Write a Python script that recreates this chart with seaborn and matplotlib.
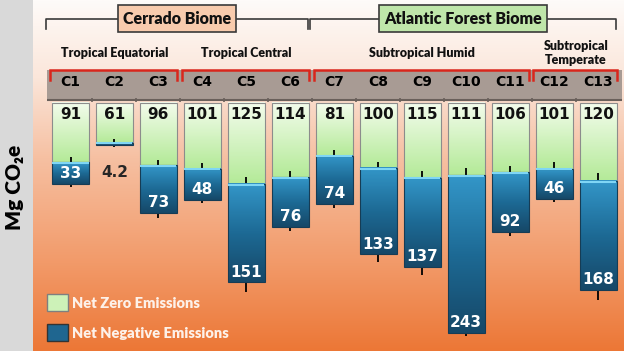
import numpy as np
import matplotlib
matplotlib.use("Agg")
import matplotlib.pyplot as plt
from matplotlib.colors import LinearSegmentedColormap
from matplotlib.patches import Rectangle, Patch
import seaborn as sns

# values (Mg CO2e)
codes = ["C1", "C2", "C3", "C4", "C5", "C6", "C7", "C8", "C9", "C10", "C11", "C12", "C13"]
net_zero = [91, 61, 96, 101, 125, 114, 81, 100, 115, 111, 106, 101, 120]
net_negative = [33, 4.2, 73, 48, 151, 76, 74, 133, 137, 243, 92, 46, 168]
zero_err = [8, 6, 9, 9, 11, 9, 8, 9, 11, 11, 9, 11, 12]
negative_err = [5, 3, 8, 5, 14, 7, 7, 12, 12, 5, 7, 6, 15]

climates = ["Tropical Equatorial", "Tropical Central", "Subtropical Humid", "Subtropical\nTemperate"]
climate_first = [0, 3, 6, 11]
climate_last = [2, 5, 10, 12]

biomes = ["Cerrado Biome", "Atlantic Forest Biome"]
biome_first = [0, 6]
biome_last = [5, 12]
biome_colors = ["#f8cbad", "#bfe6aa"]

TEXT_FONT = ["Lato", "DejaVu Sans"]
plt.rcParams["font.family"] = ["DejaVu Sans"]

fig = plt.figure(figsize=(6.24, 3.51), dpi=100, facecolor="#d9d9d9")
ax = fig.add_axes([33 / 624, 0, 591 / 624, 1])

XLIM = (-0.853, 12.59)
YLIM = (381.5, -158.5)  # bars grow downwards

# white -> orange background
bg_cmap = LinearSegmentedColormap.from_list(
    "bg", [(0, "#fefbf9"), (0.22, "#fbe6da"), (0.45, "#f6c0a2"), (0.75, "#f29a69"), (1, "#ec7736")])
ax.imshow(np.linspace(0, 1, 256).reshape(-1, 1), cmap=bg_cmap, aspect="auto",
          extent=(XLIM[0], XLIM[1], YLIM[0], YLIM[1]), origin="upper", zorder=0)

# stacked bars: net zero on top, net negative below it
sns.barplot(x=codes, y=net_zero, ax=ax, width=0.84, color="#c8f0b0", saturation=1,
            edgecolor="#8c8c8c", linewidth=0.8, errorbar=None, zorder=2)
sns.barplot(x=codes, y=net_negative, bottom=net_zero, ax=ax, width=0.84, color="#1f5f85",
            saturation=1, edgecolor="#163c55", linewidth=0.8, errorbar=None, zorder=3)

# vertical gradients inside the bars
green_cmap = LinearSegmentedColormap.from_list("g", ["#f3fcec", "#b4ea98"])
blue_cmap = LinearSegmentedColormap.from_list("b", ["#3396c8", "#1d6a95", "#164868"])
grad = np.linspace(0, 1, 64).reshape(-1, 1)
for k, bar in enumerate(list(ax.patches)):
    (x0, y0), (x1, y1) = bar.get_bbox().get_points()
    cmap = green_cmap if k < len(codes) else blue_cmap
    z = bar.get_zorder()
    ax.imshow(grad, cmap=cmap, aspect="auto", extent=(x0, x1, y1, y0), origin="upper", zorder=z + 0.01)
    bar.set_facecolor("none")
    bar.set_zorder(z + 0.02)

xs = np.arange(len(codes))
totals = [z + n for z, n in zip(net_zero, net_negative)]

ax.hlines([z + 1 for z in net_zero], xs - 0.41, xs + 0.41, color="#7fd6f5", lw=1.5, zorder=3.5)

# error ticks (only the visible half)
ax.errorbar(xs, net_zero, yerr=[zero_err, [0] * len(codes)], fmt="none", ecolor="black",
            elinewidth=1.3, capsize=0, zorder=2.5)
ax.errorbar(xs, totals, yerr=[[0] * len(codes), negative_err], fmt="none", ecolor="black",
            elinewidth=1.3, capsize=0, zorder=2.5)

# value labels
for i in xs:
    ax.text(i, 18, f"{net_zero[i]:g}", ha="center", va="center", fontsize=11,
            fontweight="bold", color="#111111", zorder=4)
    if net_negative[i] < 20:
        ax.text(i, totals[i] + 42, f"{net_negative[i]:g}", ha="center", va="center",
                fontsize=11, fontweight="bold", color="#262626", zorder=4)
    else:
        ax.text(i, totals[i] - 16, f"{net_negative[i]:g}", ha="center", va="center",
                fontsize=11, fontweight="bold", color="white", zorder=4)

# header band with the climate codes
ax.add_patch(Rectangle((-0.535, -51), 13.08, 46, facecolor="#a89b94", edgecolor="none", zorder=2))
ax.hlines(-5, -0.535, 12.545, color="#6a605b", lw=1.5, zorder=2.2)
ax.vlines(xs[:-1] + 0.5, -7, -1, color="#6a605b", lw=1.2, zorder=2.2)
for i, code in enumerate(codes):
    ax.text(i, -33, code, ha="center", va="center", fontsize=10, fontweight="bold",
            color="black", zorder=3)

# climate groups: red brackets + names
for name, a, b in zip(climates, climate_first, climate_last):
    left, right = a - 0.47, b + 0.43
    ax.plot([left, left, right, right], [-36, -51, -51, -36], color="#d9261c", lw=1.8,
            solid_joinstyle="miter", zorder=3)
    ax.text((a + b) / 2, -77, name, ha="center", va="center", fontsize=9, fontweight="heavy",
            family=TEXT_FONT, color="#111111", linespacing=1.15, zorder=3)

# biome brackets + boxed titles
for name, a, b, col in zip(biomes, biome_first, biome_last, biome_colors):
    left, right = a - 0.55, b + 0.4
    ax.plot([left, left, right, right], [-114, -129, -129, -114], color="#3a3a3a", lw=1.2, zorder=3)
    ax.text((left + right) / 2, -130, name, ha="center", va="center", fontsize=11.5,
            fontweight="heavy", family=TEXT_FONT, color="#111111", zorder=4,
            bbox=dict(boxstyle="square,pad=0.32", facecolor=col, edgecolor="#3a3a3a", lw=1.2))

# legend
handles = [Patch(facecolor="#cdf2b8", edgecolor="#7f7f7f"),
           Patch(facecolor="#1f6690", edgecolor="#333333")]
ax.legend(handles, ["Net Zero Emissions", "Net Negative Emissions"], loc="lower left",
          bbox_to_anchor=(0.024, 0.028), frameon=False, labelcolor="#fdf1e9",
          prop=dict(family=TEXT_FONT, weight="heavy", size=10.5), handlelength=1.4,
          handleheight=1.4, labelspacing=0.9, handletextpad=0.3, borderpad=0, borderaxespad=0)

ax.set_xlim(XLIM)
ax.set_ylim(YLIM)
ax.axis("off")

fig.text(0.024, 0.467, "Mg CO\u2082e", rotation=90, ha="center", va="center", fontsize=15,
         fontweight="heavy", family=TEXT_FONT, color="black")

fig.savefig("out.png", dpi=100, facecolor=fig.get_facecolor())
